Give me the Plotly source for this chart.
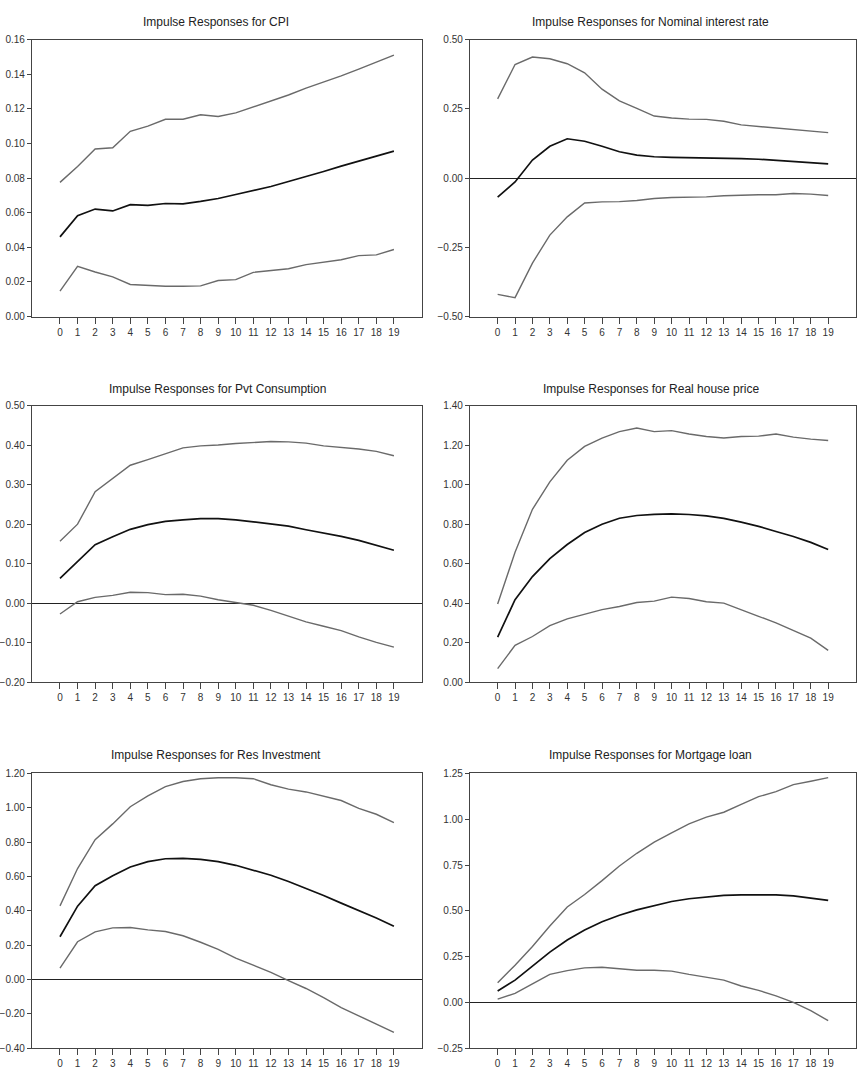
import plotly.graph_objects as go

periods = list(range(20))
x_tick_labels = [str(i) for i in periods]

titles = [
    "Impulse Responses for CPI",
    "Impulse Responses for Nominal interest rate",
    "Impulse Responses for Pvt Consumption",
    "Impulse Responses for Real house price",
    "Impulse Responses for Res Investment",
    "Impulse Responses for Mortgage loan",
]

cpi_upper = [0.0775, 0.0867, 0.0968, 0.0975, 0.107, 0.110, 0.114, 0.114, 0.1166, 0.1156,
             0.1177, 0.121, 0.1246, 0.128, 0.132, 0.1354, 0.139, 0.143, 0.147, 0.151]
cpi_mid = [0.046, 0.0583, 0.0621, 0.061, 0.0646, 0.0642, 0.0653, 0.0651, 0.0665, 0.0682,
           0.0705, 0.0728, 0.0751, 0.0780, 0.0808, 0.0838, 0.0869, 0.0899, 0.0930, 0.0956]
cpi_lower = [0.0147, 0.029, 0.0257, 0.0229, 0.0185, 0.0179, 0.0175, 0.0175, 0.0177, 0.0208,
             0.0213, 0.0255, 0.0265, 0.0276, 0.030, 0.0312, 0.0328, 0.0352, 0.0356, 0.0387]

rate_upper = [0.286, 0.41, 0.437, 0.431, 0.413, 0.38, 0.321, 0.279, 0.252, 0.224,
              0.217, 0.213, 0.212, 0.205, 0.192, 0.186, 0.181, 0.174, 0.169, 0.164]
rate_mid = [-0.069, -0.014, 0.065, 0.115, 0.142, 0.133, 0.115, 0.095, 0.083, 0.077,
            0.075, 0.074, 0.074, 0.073, 0.070, 0.068, 0.064, 0.061, 0.057, 0.051]
rate_lower = [-0.420, -0.432, -0.307, -0.206, -0.140, -0.090, -0.086, -0.085, -0.081, -0.074,
              -0.070, -0.070, -0.068, -0.064, -0.061, -0.060, -0.060, -0.056, -0.058, -0.063]

cons_upper = [0.157, 0.200, 0.282, 0.316, 0.349, 0.363, 0.378, 0.393, 0.398, 0.400,
              0.404, 0.407, 0.409, 0.408, 0.405, 0.398, 0.394, 0.390, 0.384, 0.373]
cons_mid = [0.063, 0.105, 0.148, 0.168, 0.187, 0.199, 0.207, 0.211, 0.214, 0.214,
            0.211, 0.206, 0.201, 0.195, 0.186, 0.178, 0.169, 0.159, 0.147, 0.134]
cons_lower = [-0.027, 0.004, 0.015, 0.020, 0.028, 0.027, 0.022, 0.023, 0.018, 0.009,
              0.002, -0.005, -0.018, -0.032, -0.047, -0.058, -0.069, -0.085, -0.099, -0.111]

house_upper = [0.396, 0.658, 0.875, 1.014, 1.123, 1.193, 1.235, 1.268, 1.286, 1.268,
               1.273, 1.256, 1.243, 1.236, 1.243, 1.245, 1.256, 1.240, 1.230, 1.223]
house_mid = [0.229, 0.418, 0.535, 0.626, 0.697, 0.758, 0.800, 0.830, 0.844, 0.850,
             0.852, 0.849, 0.842, 0.829, 0.810, 0.789, 0.763, 0.738, 0.708, 0.672]
house_lower = [0.070, 0.187, 0.232, 0.287, 0.321, 0.346, 0.368, 0.384, 0.404, 0.411,
               0.431, 0.424, 0.408, 0.401, 0.366, 0.334, 0.301, 0.262, 0.224, 0.162]

inv_upper = [0.429, 0.646, 0.814, 0.906, 1.006, 1.069, 1.123, 1.153, 1.169, 1.175,
             1.175, 1.169, 1.134, 1.108, 1.092, 1.067, 1.042, 0.996, 0.962, 0.914]
inv_mid = [0.249, 0.427, 0.546, 0.604, 0.655, 0.686, 0.703, 0.705, 0.699, 0.686,
           0.665, 0.638, 0.607, 0.571, 0.531, 0.489, 0.445, 0.402, 0.358, 0.310]
inv_lower = [0.067, 0.220, 0.278, 0.301, 0.303, 0.289, 0.280, 0.255, 0.217, 0.176,
             0.125, 0.084, 0.042, -0.006, -0.052, -0.105, -0.163, -0.211, -0.259, -0.307]

loan_upper = [0.108, 0.203, 0.305, 0.417, 0.521, 0.589, 0.665, 0.745, 0.814, 0.875,
              0.925, 0.974, 1.011, 1.038, 1.081, 1.123, 1.150, 1.189, 1.207, 1.227]
loan_mid = [0.063, 0.122, 0.198, 0.275, 0.341, 0.395, 0.440, 0.476, 0.505, 0.530,
            0.551, 0.566, 0.577, 0.584, 0.587, 0.589, 0.587, 0.582, 0.571, 0.557]
loan_lower = [0.018, 0.050, 0.102, 0.153, 0.174, 0.189, 0.192, 0.185, 0.176, 0.176,
              0.171, 0.153, 0.138, 0.122, 0.090, 0.066, 0.036, 0.000, -0.045, -0.099]

y_ranges = [(0.0, 0.16), (-0.5, 0.5), (-0.2, 0.5), (0.0, 1.4), (-0.4, 1.2), (-0.25, 1.25)]
y_dticks = [0.02, 0.25, 0.1, 0.2, 0.2, 0.25]

panels = [
    (cpi_upper, cpi_mid, cpi_lower),
    (rate_upper, rate_mid, rate_lower),
    (cons_upper, cons_mid, cons_lower),
    (house_upper, house_mid, house_lower),
    (inv_upper, inv_mid, inv_lower),
    (loan_upper, loan_mid, loan_lower),
]

W, H = 857, 1080
col_px = [(28, 420), (468, 856)]
row_px = [(34, 314), (404, 684), (776, 1054)]
title_px = [(213, 16), (650, 16), (215, 387), (650, 387), (213, 757), (650, 757)]

FONT = "Liberation Sans, Arial, sans-serif"
BAND = "#6a6a6a"
MID = "#111111"

fig = go.Figure()
annotations = []
for i, (up, mid, lo) in enumerate(panels):
    r, c = divmod(i, 2)
    ax = "" if i == 0 else str(i + 1)
    xa = "x" + ax
    ya = "y" + ax
    for series, color, width in ((up, BAND, 1.4), (lo, BAND, 1.4), (mid, MID, 1.7)):
        fig.add_trace(go.Scatter(x=periods, y=series, mode="lines",
                                 line=dict(color=color, width=width),
                                 xaxis=xa, yaxis=ya, showlegend=False,
                                 hoverinfo="skip"))
    x0, x1 = col_px[c]
    t0, t1 = row_px[r]
    fig.update_layout(**{
        ("xaxis" + ax): dict(
            domain=[x0 / W, x1 / W], anchor=ya, range=[-1.6, 20.6],
            tickvals=periods, ticktext=x_tick_labels, tickangle=0,
            showgrid=False, zeroline=False, showline=True, mirror=True,
            linecolor="#444", linewidth=1, ticks="outside", ticklen=6,
            tickcolor="#444", tickfont=dict(family=FONT, size=10, color="#333"),
        ),
        ("yaxis" + ax): dict(
            domain=[1 - t1 / H, 1 - t0 / H], anchor=xa, range=list(y_ranges[i]),
            tick0=y_ranges[i][0], dtick=y_dticks[i], tickformat=".2f",
            showgrid=False, zeroline=True, zerolinecolor="#222", zerolinewidth=1,
            showline=True, mirror=True, linecolor="#444", linewidth=1,
            ticks="outside", ticklen=4, tickcolor="#444",
            tickfont=dict(family=FONT, size=10, color="#333"),
        ),
    })
    tx, ty = title_px[i]
    annotations.append(dict(text=titles[i], x=tx / W, y=1 - ty / H, xref="paper", yref="paper",
                            xanchor="center", yanchor="middle", showarrow=False,
                            font=dict(family=FONT, size=12, color="#222")))

fig.update_layout(width=W, height=H, margin=dict(l=0, r=0, t=0, b=0),
                  paper_bgcolor="white", plot_bgcolor="white",
                  annotations=annotations, showlegend=False)

fig.write_html("out.html")
